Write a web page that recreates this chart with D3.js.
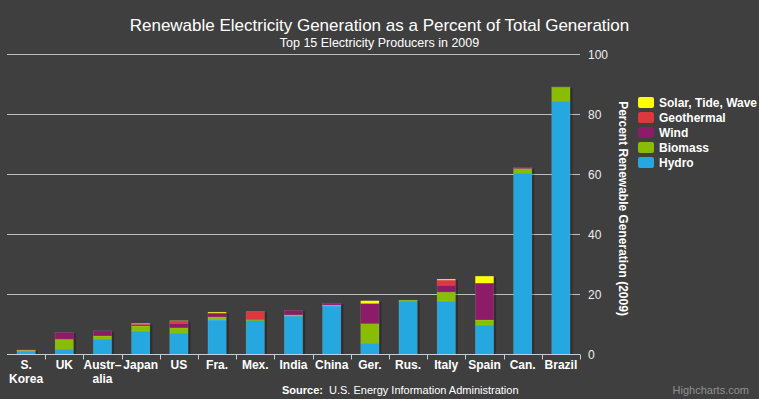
<!DOCTYPE html>
<html>
<head>
<meta charset="utf-8">
<script src="https://cdn.jsdelivr.net/npm/d3@7"></script>
<style>
  body { margin: 0; background: #3f3f3f; }
  svg { display: block; font-family: "Liberation Sans", Arial, sans-serif; }
</style>
</head>
<body>
<div id="wrapper"></div>
<script>
const categories = ["S. Korea", "UK", "Australia", "Japan", "US", "France", "Mexico", "India", "China", "Germany", "Russia", "Italy", "Spain", "Canada", "Brazil"];
const xTickLabels = [["S.", "Korea"], ["UK"], ["Austr–", "alia"], ["Japan"], ["US"], ["Fra."], ["Mex."], ["India"], ["China"], ["Ger."], ["Rus."], ["Italy"], ["Spain"], ["Can."], ["Brazil"]];

const hydro      = [1.1, 1.7, 5.1, 7.8, 7.1, 11.5, 11.3, 12.8, 16.2, 3.6, 17.8, 17.8, 9.8, 60.4, 84.3];
const biomass    = [0.2, 3.4, 1.1, 1.7, 1.8, 1.0, 0.3, 0.4, 0.3, 6.7, 0.3, 3.0, 1.7, 1.6, 4.8];
const wind       = [0.1, 2.3, 1.7, 0.4, 1.4, 1.3, 0.1, 1.5, 0.6, 6.7, 0.0, 2.3, 12.3, 0.3, 0.1];
const geothermal = [0.0, 0.0, 0.0, 0.3, 0.9, 0.0, 2.7, 0.0, 0.0, 0.0, 0.0, 1.7, 0.0, 0.0, 0.0];
const solar      = [0.1, 0.0, 0.0, 0.1, 0.05, 0.3, 0.0, 0.0, 0.0, 0.9, 0.0, 0.3, 2.3, 0.0, 0.0];

const seriesNames = ["Hydro", "Biomass", "Wind", "Geothermal", "Solar, Tide, Wave"];
const yTicks = [0, 20, 40, 60, 80, 100];

function drawChart()
{
  const colorScale = {
    "Hydro": "#25a8e0",
    "Biomass": "#89bd03",
    "Wind": "#8c1b68",
    "Geothermal": "#dc383d",
    "Solar, Tide, Wave": "#ffff00"
  };

  const table = categories.map((c, i) => ({
    category: c,
    "Hydro": hydro[i],
    "Biomass": biomass[i],
    "Wind": wind[i],
    "Geothermal": geothermal[i],
    "Solar, Tide, Wave": solar[i]
  }));

  // Dimensions
  const dimensions = {
    width: 759,
    height: 399,
    margins: { top: 54.5, right: 179, bottom: 44.5, left: 7 }
  };
  dimensions.boundedWidth = dimensions.width - dimensions.margins.left - dimensions.margins.right;
  dimensions.boundedHeight = dimensions.height - dimensions.margins.top - dimensions.margins.bottom;

  const wrapper = d3.select("#wrapper")
    .append("svg")
      .attr("width", dimensions.width)
      .attr("height", dimensions.height);

  wrapper.append("rect")
    .attr("width", dimensions.width)
    .attr("height", dimensions.height)
    .attr("fill", "#3f3f3f");

  const bounds = wrapper.append("g")
    .attr("transform", `translate(${dimensions.margins.left},${dimensions.margins.top})`);

  // Scales
  const xScale = d3.scaleBand()
    .domain(categories)
    .range([0, dimensions.boundedWidth])
    .paddingInner(0.52)
    .paddingOuter(0.26);

  const yScale = d3.scaleLinear()
    .domain([0, 100])
    .range([dimensions.boundedHeight, 0]);

  // Gridlines
  bounds.append("g")
    .selectAll("line")
    .data(yTicks.filter(d => d > 0))
    .join("line")
      .attr("x1", 0)
      .attr("x2", dimensions.boundedWidth)
      .attr("y1", d => yScale(d))
      .attr("y2", d => yScale(d))
      .attr("stroke", "#bdbdbd")
      .attr("stroke-width", 1);

  // Stacked bars
  const stacked = d3.stack().keys(seriesNames)(table);

  const shadows = bounds.append("g");
  shadows.selectAll("rect")
    .data(table)
    .join("rect")
      .attr("x", d => xScale(d.category) + 1.5)
      .attr("y", d => yScale(d3.sum(seriesNames, k => d[k])) + 1)
      .attr("width", xScale.bandwidth() + 1)
      .attr("height", d => dimensions.boundedHeight - yScale(d3.sum(seriesNames, k => d[k])) - 0.5)
      .attr("fill", "rgba(0,0,0,0.25)");

  bounds.append("g")
    .selectAll("g")
    .data(stacked)
    .join("g")
      .attr("fill", s => colorScale[s.key])
    .selectAll("rect")
    .data(s => s.filter(d => d[1] - d[0] > 0))
    .join("rect")
      .attr("x", d => xScale(d.data.category))
      .attr("y", d => yScale(d[1]))
      .attr("width", xScale.bandwidth())
      .attr("height", d => yScale(d[0]) - yScale(d[1]))
      .attr("stroke", "rgba(255,255,255,0.18)")
      .attr("stroke-width", 0.6);

  // X axis
  const step = xScale.step();
  const xAxis = bounds.append("g")
    .attr("transform", `translate(0,${dimensions.boundedHeight})`);

  xAxis.append("line")
    .attr("x1", 0)
    .attr("x2", dimensions.boundedWidth)
    .attr("stroke", "#c0d0e0");

  xAxis.selectAll(".tick")
    .data(d3.range(1, categories.length + 1))
    .join("line")
      .attr("class", "tick")
      .attr("x1", d => Math.round(d * step) + 0.5)
      .attr("x2", d => Math.round(d * step) + 0.5)
      .attr("y1", 0)
      .attr("y2", 5)
      .attr("stroke", "#c0d0e0");

  xAxis.selectAll(".label")
    .data(categories)
    .join("text")
      .attr("class", "label")
      .attr("x", d => xScale(d) + xScale.bandwidth() / 2)
      .attr("y", 14)
      .attr("text-anchor", "middle")
      .attr("fill", "#ffffff")
      .style("font-size", "12px")
      .style("font-weight", "bold")
    .selectAll("tspan")
    .data((d, i) => xTickLabels[i])
    .join("tspan")
      .attr("x", function() { return this.parentNode.getAttribute("x"); })
      .attr("dy", (d, i) => i === 0 ? 0 : 14)
      .text(d => d);

  // Y axis (right side)
  bounds.append("g")
    .selectAll("text")
    .data(yTicks)
    .join("text")
      .attr("x", dimensions.boundedWidth + 8)
      .attr("y", d => yScale(d) + 4)
      .attr("fill", "#eeeeee")
      .style("font-size", "12px")
      .text(d => d);

  bounds.append("text")
    .attr("transform", `translate(${dimensions.boundedWidth + 39},${dimensions.boundedHeight / 2 + 4}) rotate(90)`)
    .attr("text-anchor", "middle")
    .attr("fill", "#ffffff")
    .style("font-size", "12px")
    .style("font-weight", "bold")
    .text("Percent Renewable Generation (2009)");

  // Titles
  wrapper.append("text")
    .attr("x", dimensions.width / 2)
    .attr("y", 31)
    .attr("text-anchor", "middle")
    .attr("fill", "#ffffff")
    .style("font-size", "17px")
    .text("Renewable Electricity Generation as a Percent of Total Generation");

  wrapper.append("text")
    .attr("x", dimensions.width / 2)
    .attr("y", 47)
    .attr("text-anchor", "middle")
    .attr("fill", "#ffffff")
    .style("font-size", "12.5px")
    .text("Top 15 Electricity Producers in 2009");

  // Legend
  const legend = wrapper.append("g")
    .attr("transform", "translate(638,97)");

  const legendItems = legend.selectAll("g")
    .data(seriesNames.slice().reverse())
    .join("g")
      .attr("transform", (d, i) => `translate(0,${i * 15})`);

  legendItems.append("rect")
    .attr("width", 16)
    .attr("height", 11)
    .attr("rx", 2)
    .attr("fill", d => colorScale[d]);

  legendItems.append("text")
    .attr("x", 21)
    .attr("y", 10)
    .attr("fill", "#ffffff")
    .style("font-size", "12px")
    .style("font-weight", "bold")
    .text(d => d);

  // Credits
  const source = wrapper.append("text")
    .attr("x", 282)
    .attr("y", 394)
    .attr("fill", "#ffffff")
    .style("font-size", "11px");
  source.append("tspan")
    .style("font-weight", "bold")
    .text("Source:");
  source.append("tspan")
    .attr("x", 329)
    .text("U.S. Energy Information Administration");

  wrapper.append("text")
    .attr("x", 749)
    .attr("y", 394)
    .attr("text-anchor", "end")
    .attr("fill", "#909090")
    .style("font-size", "11px")
    .text("Highcharts.com");
}

drawChart();
</script>
</body>
</html>
